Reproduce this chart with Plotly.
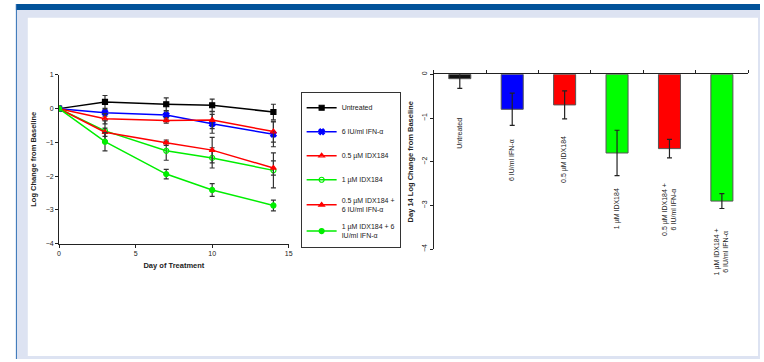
import plotly.graph_objects as go

# ---------------- data ----------------
days = [0, 3, 7, 10, 14]
series_names = ["Untreated", "6 IU/ml IFN-α", "0.5 µM IDX184", "1 µM IDX184",
                "0.5 µM IDX184 +<br>6 IU/ml IFN-α", "1 µM IDX184 + 6<br>IU/ml IFN-α"]
untreated = [0, 0.20, 0.13, 0.10, -0.10]
untreated_err = [0, 0.19, 0.19, 0.18, 0.23]
ifn6 = [0, -0.12, -0.19, -0.45, -0.76]
ifn6_err = [0, 0.10, 0.12, 0.28, 0.37]
idx05 = [0, -0.30, -0.35, -0.34, -0.68]
idx05_err = [0, 0.15, 0.08, 0.25, 0.31]
idx1 = [0, -0.66, -1.25, -1.46, -1.83]
idx1_err = [0, 0.30, 0.28, 0.30, 0.52]
idx05_ifn = [0, -0.70, -1.01, -1.23, -1.76]
idx05_ifn_err = [0, 0.12, 0.08, 0.38, 0.21]
idx1_ifn = [0, -0.98, -1.94, -2.41, -2.87]
idx1_ifn_err = [0, 0.27, 0.14, 0.19, 0.16]

bar_categories = ["Untreated", "6 IU/ml IFN-α", "0.5 µM IDX184", "1 µM IDX184",
                  "0.5 µM IDX184 +<br>6 IU/ml IFN-α", "1 µM IDX184 +<br>6 IU/ml IFN-α"]
day14 = [-0.10, -0.80, -0.70, -1.80, -1.70, -2.90]
day14_err = [0.22, 0.37, 0.32, 0.52, 0.21, 0.17]

# ---------------- styles ----------------
line_colors = ["#000000", "#0000ff", "#ff0000", "#00ee00", "#ff0000", "#00ee00"]
symbols = ["square", "x", "triangle-up-open", "circle-open", "triangle-up", "circle"]
bar_colors = ["#111111", "#0000ff", "#ff0000", "#00ff00", "#ff0000", "#00ff00"]
label_gap = [0.62, 0.26, 0.34, 0.25, 0.53, 0.40]

FONT = "Liberation Sans, Arial, sans-serif"
W, H = 764, 362

fig = go.Figure()

line_data = [untreated, ifn6, idx05, idx1, idx05_ifn, idx1_ifn]
line_err = [untreated_err, ifn6_err, idx05_err, idx1_err, idx05_ifn_err, idx1_ifn_err]
for i, (name, y, e) in enumerate(zip(series_names, line_data, line_err)):
    fig.add_trace(go.Scatter(
        x=days, y=y, name=name, mode="lines+markers",
        line=dict(color=line_colors[i], width=1.5),
        marker=dict(symbol=symbols[i], size=5, color=line_colors[i],
                    line=dict(color=line_colors[i], width=1.2)),
        error_y=dict(type="data", array=e, color="#333333", thickness=1.2, width=2.5),
        legendgroup=str(i), xaxis="x", yaxis="y",
    ))

fig.add_trace(go.Bar(
    x=list(range(len(bar_categories))), y=day14, width=0.42,
    marker=dict(color=bar_colors, line=dict(color="#555555", width=1)),
    error_y=dict(type="data", array=day14_err, color="#222222", thickness=1.2, width=2.5),
    showlegend=False, xaxis="x2", yaxis="y2",
))

for i, lab in enumerate(bar_categories):
    fig.add_annotation(
        x=i, y=day14[i] - day14_err[i] - label_gap[i], xref="x2", yref="y2",
        text=lab, textangle=-90, showarrow=False, xanchor="center", yanchor="top",
        font=dict(family=FONT, size=7, color="#222222"), align="center",
    )

def px_x(p):
    return p / W

def px_y(p):
    return 1 - p / H

axis_common = dict(showline=True, linecolor="#222222", linewidth=1, showgrid=False,
                   zeroline=False, ticks="outside", ticklen=3, tickcolor="#222222",
                   tickfont=dict(family=FONT, size=7, color="#222222"))

fig.update_layout(
    width=W, height=H, margin=dict(l=0, r=0, t=0, b=0),
    paper_bgcolor="white", plot_bgcolor="rgba(0,0,0,0)",
    font=dict(family=FONT, size=7, color="#222222"),
    xaxis=dict(domain=[px_x(57.5), px_x(289)], range=[0, 15], tickvals=[0, 5, 10, 15],
               title=dict(text="<b>Day of Treatment</b>", font=dict(size=7.5), standoff=6),
               anchor="y", **axis_common),
    yaxis=dict(domain=[px_y(244.3), px_y(72.3)], range=[-4, 1], tickvals=[1, 0, -1, -2, -3, -4],
               title=dict(text="<b>Log Change from Baseline</b>", font=dict(size=7.5), standoff=8),
               anchor="x", **axis_common),
    xaxis2=dict(domain=[px_x(435), px_x(752)], range=[-0.5, 5.5], tickvals=[-0.5, 0.5, 1.5, 2.5, 3.5, 4.5, 5.5],
                showticklabels=False, side="top", anchor="y2", **axis_common),
    yaxis2=dict(domain=[px_y(250), px_y(71.7)], range=[-4, 0], tickvals=[0, -1, -2, -3, -4],
                tickangle=-90,
                title=dict(text="<b>Day 14 Log Change from Baseline</b>", font=dict(size=7.5), standoff=6),
                anchor="x2", **axis_common),
    legend=dict(x=px_x(301), y=px_y(90), xanchor="left", yanchor="top",
                bordercolor="#333333", borderwidth=1, bgcolor="white",
                font=dict(family=FONT, size=7, color="#222222"),
                tracegroupgap=5, itemwidth=30),
    showlegend=True,
)

shapes = [
    dict(type="rect", xref="paper", yref="paper", x0=px_x(15), x1=1, y0=0, y1=1,
         fillcolor="#dde3f2", line=dict(width=0), layer="below"),
    dict(type="rect", xref="paper", yref="paper", x0=px_x(26), x1=px_x(762), y0=px_y(359), y1=px_y(14),
         fillcolor="white", line=dict(width=0), layer="below"),
    dict(type="rect", xref="paper", yref="paper", x0=px_x(14), x1=1, y0=px_y(6), y1=1,
         fillcolor="#02539a", line=dict(width=0), layer="below"),
    dict(type="line", xref="paper", yref="paper", x0=px_x(14.5), x1=px_x(14.5), y0=0, y1=1,
         line=dict(color="#2b6cb3", width=1), layer="below"),
]
fig.update_layout(shapes=shapes)

fig.write_html("out.html")
